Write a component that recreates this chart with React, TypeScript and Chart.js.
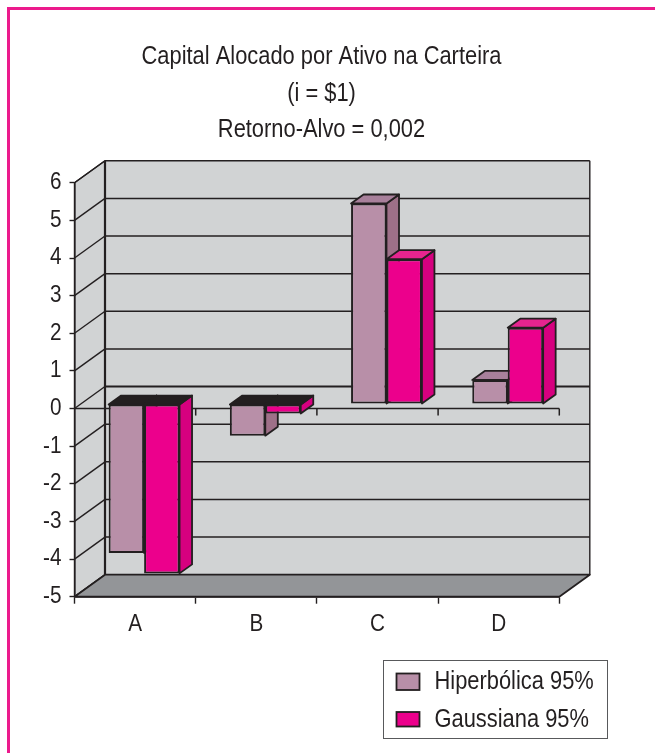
import React, { useEffect, useRef } from "react";
import { Chart, registerables } from "chart.js";

Chart.register(...registerables);

const categories = ["A", "B", "C", "D"];
const hiperbolica = [-3.96, -0.84, 5.33, 0.64];
const gaussiana = [-4.5, -0.25, 3.85, 2.03];
const seriesNames = ["Hiperbólica 95%", "Gaussiana 95%"];
const titleLines = ["Capital Alocado por Ativo na Carteira", "(i = $1)", "Retorno-Alvo = 0,002"];

const FONT = '"Liberation Sans", Arial, sans-serif';
const INK = "#231f20";
const WALL = "#d1d3d4";
const FLOOR = "#939598";
const HIPER = "#b88fa8";
const HIPER_SIDE = "#9e7088";
const HIPER_TOP = "#a8809b";
const PINK = "#ec008c";
const PINK_SIDE = "#d6007f";
const PINK_TOP = "#e6248f";

const WALL_DX = 30.5;
const WALL_DY = 22;
const BAR_SHIFT_X = 9;
const BAR_SHIFT_Y = 4.5;
const BAR_DX = 12.5;
const BAR_DY = 9;

function poly(ctx: CanvasRenderingContext2D, pts: number[][], fill: string, lw = 1.8) {
  ctx.beginPath();
  pts.forEach((p, i) => (i ? ctx.lineTo(p[0], p[1]) : ctx.moveTo(p[0], p[1])));
  ctx.closePath();
  ctx.fillStyle = fill;
  ctx.fill();
  ctx.lineWidth = lw;
  ctx.strokeStyle = INK;
  ctx.lineJoin = "round";
  ctx.stroke();
}

function line(ctx: CanvasRenderingContext2D, x0: number, y0: number, x1: number, y1: number, lw: number) {
  ctx.beginPath();
  ctx.moveTo(x0, y0);
  ctx.lineTo(x1, y1);
  ctx.lineWidth = lw;
  ctx.strokeStyle = INK;
  ctx.stroke();
}

// The reference type is a condensed grotesque: narrow every label about its anchor.
function condenseText(ctx: CanvasRenderingContext2D) {
  const original = ctx.fillText.bind(ctx);
  ctx.fillText = (text: string, x: number, y: number, maxWidth?: number) => {
    const squeeze = ctx.font.includes("23px") ? 0.9 : 0.875;
    ctx.save();
    ctx.translate(x, y);
    ctx.scale(squeeze, 1);
    original(text, 0, 0, maxWidth as number);
    ctx.restore();
  };
}

const box3d = {
  id: "box3d",
  afterLayout(chart: any) {
    // centre the title where the reference has it
    chart.titleBlock.left += 4.6;
    chart.titleBlock.right += 4.6;
  },
  beforeDraw(chart: any) {
    const ctx = chart.ctx as CanvasRenderingContext2D;
    const { left, right, top, bottom } = chart.chartArea;
    const y = chart.scales.y;
    const x = chart.scales.x;
    ctx.save();
    ctx.fillStyle = WALL;
    ctx.fillRect(left + WALL_DX, top - WALL_DY, right - left, bottom - top);
    poly(ctx, [[left, top], [left + WALL_DX, top - WALL_DY], [left + WALL_DX, bottom - WALL_DY], [left, bottom]], WALL, 1.4);
    y.ticks.forEach((t: any) => {
      const py = y.getPixelForValue(t.value);
      line(ctx, left, py, left + WALL_DX, py - WALL_DY, 1.4);
      line(ctx, left + WALL_DX, py - WALL_DY, right + WALL_DX, py - WALL_DY, t.value === 0 ? 2 : 1.5);
    });
    line(ctx, left + WALL_DX, top - WALL_DY, left + WALL_DX, bottom - WALL_DY, 2.2);
    line(ctx, right + WALL_DX, top - WALL_DY, right + WALL_DX, bottom - WALL_DY, 1.4);
    poly(ctx, [[left, bottom], [left + WALL_DX, bottom - WALL_DY], [right + WALL_DX, bottom - WALL_DY], [right, bottom]], FLOOR, 1.8);
    const y0 = y.getPixelForValue(0);
    line(ctx, left, y0, right, y0, 1.5);
    const step = (right - left) / categories.length;
    categories.forEach((_, i) => {
      const px = x.getPixelForValue(i) + step / 2;
      line(ctx, px, y0, px, y0 + 7, 1.5);
    });
    ctx.restore();
  },
  beforeDatasetDraw() {
    return false;
  },
  afterDatasetsDraw(chart: any) {
    const ctx = chart.ctx as CanvasRenderingContext2D;
    ctx.save();
    ctx.translate(BAR_SHIFT_X, -BAR_SHIFT_Y);
    categories.forEach((_, i) => {
      [0, 1].forEach((d) => {
        const el = chart.getDatasetMeta(d).data[i];
        const p = el.getProps(["x", "y", "base", "width"], true);
        const x0 = p.x - p.width / 2;
        const x1 = p.x + p.width / 2;
        const yTop = Math.min(p.y, p.base);
        const yBot = Math.max(p.y, p.base);
        const negative = p.y > p.base;
        const side = d === 0 ? HIPER_SIDE : PINK_SIDE;
        const cap = negative ? INK : d === 0 ? HIPER_TOP : PINK_TOP;
        poly(ctx, [[x1, yTop], [x1 + BAR_DX, yTop - BAR_DY], [x1 + BAR_DX, yBot - BAR_DY], [x1, yBot]], side);
        poly(ctx, [[x0, yTop], [x0 + BAR_DX, yTop - BAR_DY], [x1 + BAR_DX, yTop - BAR_DY], [x1, yTop]], cap);
        el.draw(ctx, chart.chartArea);
      });
    });
    ctx.restore();
  },
  afterDraw(chart: any) {
    const ctx = chart.ctx as CanvasRenderingContext2D;
    ctx.save();
    ctx.fillStyle = "#ffffff";
    ctx.fillRect(383.5, 660, 224, 78);
    ctx.lineWidth = 1;
    ctx.strokeStyle = "#58595b";
    ctx.strokeRect(383.5, 660.5, 224, 78);
    const rows = [
      { y: 673.5, h: 16.5, cy: 682 },
      { y: 712, h: 14.5, cy: 720 },
    ];
    chart.data.datasets.forEach((ds: any, i: number) => {
      const r = rows[i];
      ctx.fillStyle = ds.backgroundColor;
      ctx.fillRect(396.5, r.y, 23, r.h);
      ctx.lineWidth = 1.8;
      ctx.strokeStyle = INK;
      ctx.strokeRect(396.5, r.y, 23, r.h);
      ctx.fillStyle = INK;
      ctx.font = `25px ${FONT}`;
      ctx.textBaseline = "middle";
      ctx.textAlign = "left";
      ctx.fillText(ds.label, 434.5, r.cy);
    });
    ctx.restore();
  },
};

export default function App() {
  const ref = useRef<HTMLCanvasElement>(null);
  useEffect(() => {
    const canvas = ref.current as HTMLCanvasElement;
    condenseText(canvas.getContext("2d") as CanvasRenderingContext2D);
    const chart = new Chart(canvas, {
      type: "bar",
      data: {
        labels: categories,
        datasets: [
          { label: seriesNames[0], data: hiperbolica, backgroundColor: HIPER, borderColor: INK, borderWidth: 2, borderSkipped: false },
          { label: seriesNames[1], data: gaussiana, backgroundColor: PINK, borderColor: INK, borderWidth: 2, borderSkipped: false },
        ],
      } as any,
      options: {
        responsive: false,
        animation: false,
        layout: { padding: { right: 83.7 } },
        datasets: { bar: { categoryPercentage: 0.585, barPercentage: 1 } },
        plugins: {
          legend: { display: false },
          tooltip: { enabled: false },
          title: {
            display: true,
            fullSize: false,
            text: titleLines,
            color: INK,
            font: { family: FONT, size: 25, weight: "normal", lineHeight: 1.465 },
            padding: { top: 38.7, bottom: 34.2 },
          },
        },
        scales: {
          x: {
            afterFit: (s: any) => {
              s.height = 156.3;
            },
            grid: { drawOnChartArea: false, tickLength: 7, tickColor: INK, tickWidth: 1.4 },
            border: { color: INK, width: 1.8 },
            ticks: { color: INK, font: { family: FONT, size: 23 }, padding: 7, maxRotation: 0 },
          },
          y: {
            min: -5,
            max: 6,
            afterFit: (s: any) => {
              s.width = 74.5;
            },
            grid: { drawOnChartArea: false, tickLength: 5, tickColor: INK, tickWidth: 1.4 },
            border: { color: INK, width: 1.6 },
            ticks: { stepSize: 1, autoSkip: false, color: INK, font: { family: FONT, size: 23 }, padding: 8 },
          },
        },
      } as any,
      plugins: [box3d as any],
    });
    return () => chart.destroy();
  }, []);
  return (
    <div style={{ position: "absolute", left: 0, top: 0, width: 655, height: 753, overflow: "hidden", background: "#fff" }}>
      <div style={{ position: "absolute", left: 7, top: 7, width: 800, height: 900, borderLeft: "3px solid #ec1a8c", borderTop: "3px solid #ec1a8c" }} />
      <canvas ref={ref} width={643} height={753} style={{ position: "absolute", left: 0, top: 0, display: "block" }} />
    </div>
  );
}
